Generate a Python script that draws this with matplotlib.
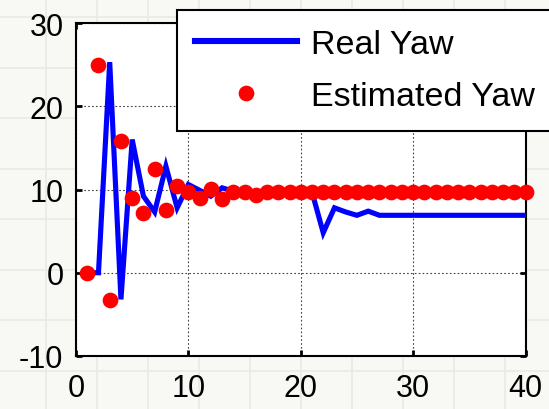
import matplotlib
matplotlib.use("Agg")
import matplotlib.pyplot as plt
import numpy as np

# Samples (time steps 1..40)
steps = list(range(1, 41))
real_yaw = [0, 0, 25.3, -3.2, 16.0, 9.2, 7.3, 12.8, 7.8, 10.6,
            9.9, 9.2, 10.2, 9.8, 9.7, 9.7, 9.7, 9.7, 9.7, 9.7,
            9.7, 4.8, 7.8, 7.3, 6.9, 7.4, 6.9, 6.9, 6.9, 6.9,
            6.9, 6.9, 6.9, 6.9, 6.9, 6.9, 6.9, 6.9, 6.9, 6.9]
estimated_yaw = [0, 25.0, -3.3, 15.8, 9.0, 7.2, 12.5, 7.5, 10.4, 9.7,
                 9.0, 10.1, 8.9, 9.7, 9.7, 9.3, 9.65, 9.65, 9.65, 9.65,
                 9.65, 9.65, 9.65, 9.65, 9.65, 9.65, 9.65, 9.65, 9.65, 9.65,
                 9.65, 9.65, 9.65, 9.65, 9.65, 9.65, 9.65, 9.65, 9.65, 9.65]
x_ticks = [0, 10, 20, 30, 40]
y_ticks = [-10, 0, 10, 20, 30]
series_names = ["Real Yaw", "Estimated Yaw"]

plt.rcParams['font.family'] = ['Liberation Sans', 'DejaVu Sans']
plt.rcParams['axes.unicode_minus'] = False

W, H = 549, 410
fig = plt.figure(figsize=(W / 100, H / 100), dpi=100)
fig.patch.set_facecolor('#f8f8f4')

# Faint paper-style grid behind everything
bg = fig.add_axes([0, 0, 1, 1], zorder=-10)
bg.set_xlim(0, W)
bg.set_ylim(H, 0)
bg.set_facecolor('#f8f8f4')
bg.set_xticks(np.arange(46, W, 51))
bg.set_yticks(np.arange(18, H, 50.5))
bg.grid(True, color='#eaeae5', linewidth=1.2)
bg.tick_params(length=0, labelbottom=False, labelleft=False)
for s in bg.spines.values():
    s.set_visible(False)

left, right = 76 / W, 525.5 / W
bottom, top = 1 - 357 / H, 1 - 24 / H
ax = fig.add_axes([left, bottom, right - left, top - bottom])
ax.set_facecolor('white')

ax.plot(steps, real_yaw, color='#0000ff', linewidth=3.7,
        label=series_names[0], zorder=3, solid_joinstyle='miter')
ax.plot(steps, estimated_yaw, linestyle='none', marker='o', markersize=10.3,
        markerfacecolor='#ff0000', markeredgecolor='#ff0000',
        label=series_names[1], zorder=4, clip_on=False)

ax.set_xlim(0, 40)
ax.set_ylim(-10, 30)
ax.set_xticks(x_ticks)
ax.set_yticks(y_ticks)
ax.grid(True, color='#404040', linestyle=(0, (1.5, 2)), linewidth=0.8)
ax.tick_params(direction='in', length=4, width=2, color='black',
               top=True, right=True, labelsize=22)
ax.tick_params(axis='y', pad=9)
ax.tick_params(axis='x', pad=12)
for s in ax.spines.values():
    s.set_linewidth(1.5)
    s.set_color('black')

leg = ax.legend(loc='upper left', bbox_to_anchor=(176.5 / W, 1 - 11 / H),
                bbox_transform=fig.transFigure, borderaxespad=0,
                fontsize=24.5, handlelength=3.0, handletextpad=0.4,
                labelspacing=0.62, borderpad=0.55, fancybox=False,
                framealpha=1, edgecolor='black', markerscale=1.0)
leg.get_frame().set_linewidth(1.5)
for line in leg.get_lines():
    line.set_linewidth(4.4)
leg.set_zorder(10)

fig.savefig('out.png', dpi=100, facecolor=fig.get_facecolor())
